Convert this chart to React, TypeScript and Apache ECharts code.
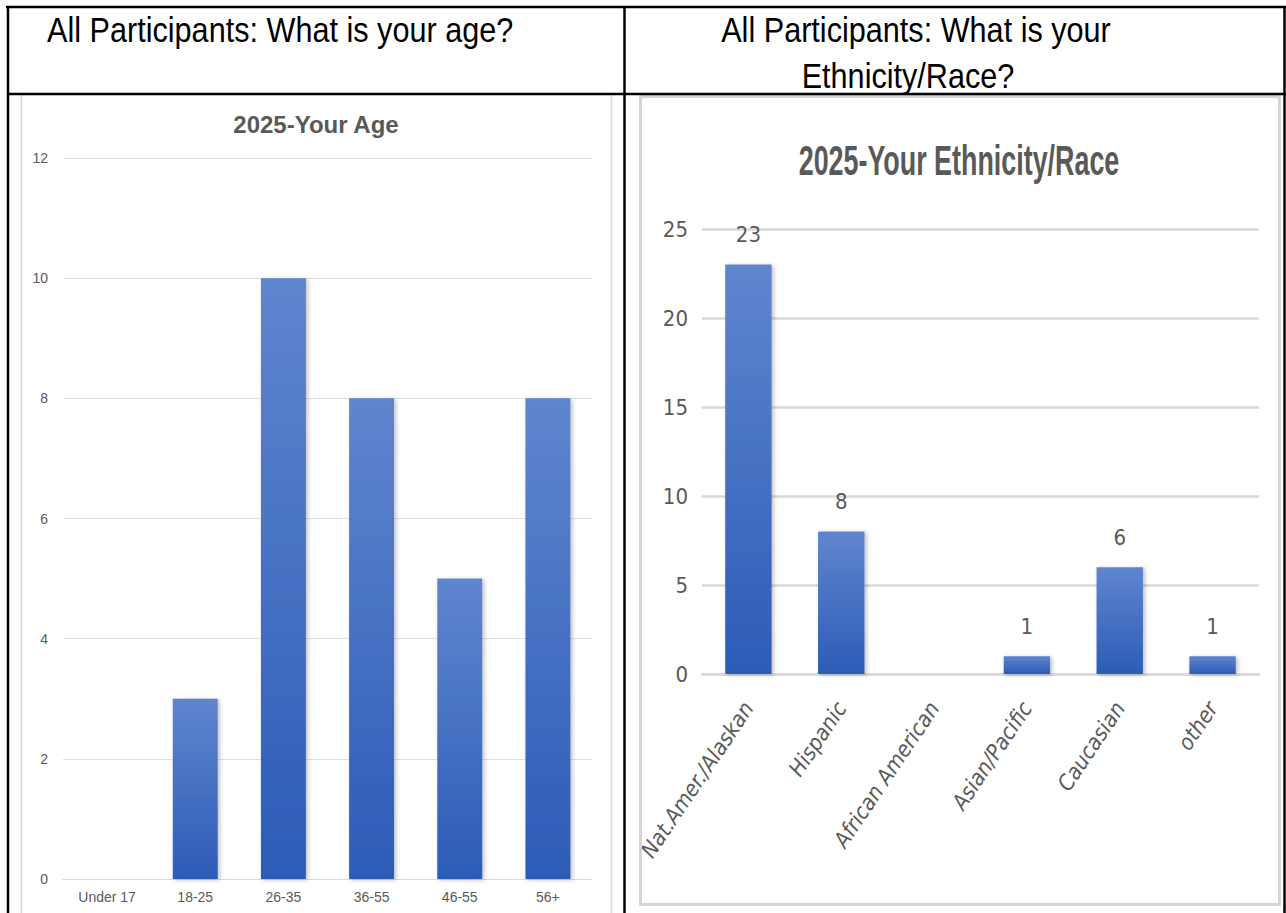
import React, { useEffect, useRef } from 'react';
import * as echarts from 'echarts';

const ageCategories = ['Under 17', '18-25', '26-35', '36-55', '46-55', '56+'];
const ageValues = [0, 3, 10, 8, 5, 8];
const ageAxis = { min: 0, max: 12, interval: 2 };

const raceCategories = ['Nat.Amer./Alaskan', 'Hispanic', 'African American', 'Asian/Pacific', 'Caucasian', 'other'];
const raceValues = [23, 8, 0, 1, 6, 1];
const raceAxis = { min: 0, max: 25, interval: 5 };

const headerLeft = 'All Participants: What is your age?';
const headerRight = ['All Participants: What is your', 'Ethnicity/Race?'];
const titleLeft = '2025-Your Age';
const titleRight = '2025-Your Ethnicity/Race';

const W = 1286;
const H = 913;
const SANS = "'Liberation Sans', Arial, sans-serif";
const NARROW = "'Liberation Sans Narrow', 'DejaVu Sans Condensed', 'Liberation Sans', sans-serif";
const GRAY = '#595959';

function barGradient() {
  return new echarts.graphic.LinearGradient(0, 0, 0, 1, [
    { offset: 0, color: '#6085cf' },
    { offset: 1, color: '#2c5cb7' },
  ]);
}

export default function App() {
  const ref = useRef<HTMLDivElement>(null);

  useEffect(() => {
    const chart = echarts.init(ref.current!, null, { renderer: 'svg', width: W, height: H });
    const line = (x1: number, y1: number, x2: number, y2: number) => ({
      type: 'line',
      shape: { x1, y1, x2, y2 },
      style: { stroke: '#000', lineWidth: 2.5 },
      z: 10,
    });
    const headerText = (text: string, x: number, y: number, align: string) => ({
      type: 'text',
      x,
      y,
      scaleX: 0.875,
      style: {
        text,
        fontSize: 35,
        fontFamily: SANS,
        fill: '#000',
        textAlign: align,
        textVerticalAlign: 'middle',
      },
      z: 11,
    });
    const option: any = {
      animation: false,
      backgroundColor: '#fff',
      grid: [
        { left: 63, right: W - 592, top: 158, bottom: H - 879 },
        { left: 702, right: W - 1259, top: 229, bottom: H - 674 },
      ],
      xAxis: [
        {
          type: 'category',
          gridIndex: 0,
          data: ageCategories,
          axisTick: { show: false },
          axisLine: { show: true, lineStyle: { color: '#d9d9d9', width: 1 } },
          axisLabel: { interval: 0, fontSize: 14, margin: 11, color: GRAY, fontFamily: SANS },
        },
        {
          type: 'category',
          gridIndex: 1,
          data: raceCategories,
          axisTick: { show: false },
          axisLine: { show: true, lineStyle: { color: '#d9d9d9', width: 2.5 } },
          axisLabel: {
            interval: 0,
            rotate: 56,
            fontSize: 22,
            margin: 30,
            color: GRAY,
            fontStyle: 'italic',
            fontFamily: NARROW,
          },
        },
      ],
      yAxis: [
        {
          type: 'value',
          gridIndex: 0,
          min: ageAxis.min,
          max: ageAxis.max,
          interval: ageAxis.interval,
          axisLine: { show: false },
          axisTick: { show: false },
          axisLabel: { fontSize: 14, margin: 15, color: GRAY, fontFamily: SANS },
          splitLine: { lineStyle: { color: '#e0e0e0', width: 1 } },
        },
        {
          type: 'value',
          gridIndex: 1,
          min: raceAxis.min,
          max: raceAxis.max,
          interval: raceAxis.interval,
          axisLine: { show: false },
          axisTick: { show: false },
          axisLabel: { fontSize: 22, margin: 14, color: GRAY, fontFamily: NARROW },
          splitLine: { lineStyle: { color: '#d9d9d9', width: 2.5 } },
        },
      ],
      series: [
        {
          type: 'bar',
          xAxisIndex: 0,
          yAxisIndex: 0,
          data: ageValues,
          barWidth: '51%',
          itemStyle: {
            color: barGradient(),
            shadowColor: 'rgba(0,0,0,0.25)',
            shadowBlur: 4,
            shadowOffsetX: 2,
            shadowOffsetY: 1,
          },
        },
        {
          type: 'bar',
          xAxisIndex: 1,
          yAxisIndex: 1,
          data: raceValues,
          barWidth: '50%',
          itemStyle: {
            color: barGradient(),
            shadowColor: 'rgba(0,0,0,0.25)',
            shadowBlur: 4,
            shadowOffsetX: 2,
            shadowOffsetY: 1,
          },
          label: {
            show: true,
            position: 'top',
            distance: 19,
            fontSize: 22,
            color: GRAY,
            fontFamily: NARROW,
            formatter: (p: any) => (p.value === 0 ? '' : String(p.value)),
          },
        },
      ],
      graphic: [
        {
          type: 'rect',
          shape: { x: 21.5, y: 94.5, width: 590, height: 840 },
          style: { fill: 'none', stroke: '#d9d9d9', lineWidth: 1.5 },
          z: 1,
        },
        {
          type: 'rect',
          shape: { x: 640.5, y: 96.5, width: 639, height: 808 },
          style: { fill: 'none', stroke: '#d4d4d4', lineWidth: 3 },
          z: 1,
        },
        line(6, 7, W, 7),
        line(8, 6, 8, H),
        line(8, 94, W, 94),
        line(624.5, 6, 624.5, H),
        line(1284.5, 6, 1284.5, H),
        headerText(headerLeft, 47, 30, 'left'),
        headerText(headerRight[0], 916, 30, 'center'),
        headerText(headerRight[1], 908, 76, 'center'),
        {
          type: 'text',
          x: 316,
          y: 124,
          style: {
            text: titleLeft,
            fontSize: 24,
            fontWeight: 'bold',
            fontFamily: SANS,
            fill: GRAY,
            textAlign: 'center',
            textVerticalAlign: 'middle',
          },
          z: 11,
        },
        {
          type: 'text',
          x: 959,
          y: 160,
          scaleX: 0.64,
          style: {
            text: titleRight,
            fontSize: 42,
            fontWeight: 'bold',
            fontFamily: SANS,
            fill: GRAY,
            textAlign: 'center',
            textVerticalAlign: 'middle',
          },
          z: 11,
        },
      ],
    };
    chart.setOption(option);
    return () => chart.dispose();
  }, []);

  return (
    <div
      ref={ref}
      style={{ position: 'fixed', left: 0, top: 0, width: W, height: H, background: '#fff' }}
    />
  );
}
